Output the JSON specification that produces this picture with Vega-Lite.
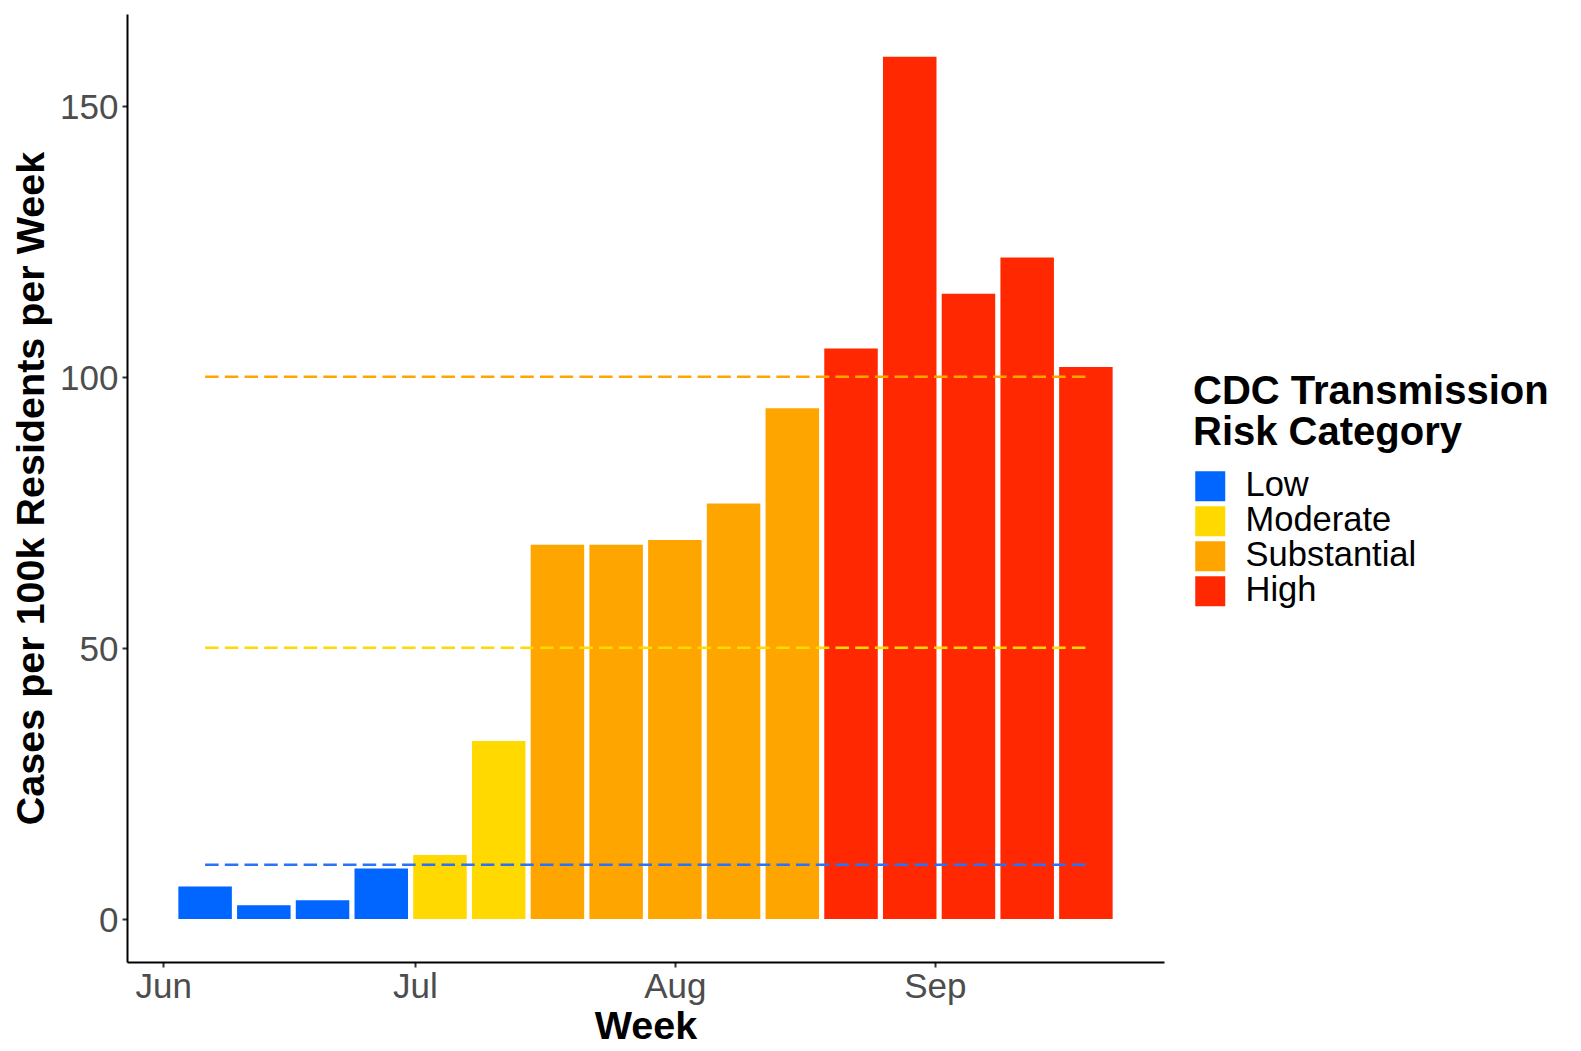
{
  "$schema": "https://vega.github.io/schema/vega-lite/v6.json",
  "width": 1037,
  "height": 948,
  "autosize": {"type": "none"},
  "padding": {"left": 127, "top": 14, "right": 417, "bottom": 89},
  "background": "white",
  "config": {
    "view": {"stroke": null},
    "font": "Liberation Sans",
    "axis": {
      "grid": false,
      "domainColor": "black",
      "domainWidth": 2,
      "tickColor": "#333333",
      "tickWidth": 2,
      "tickSize": 5,
      "labelColor": "#4D4D4D",
      "labelFont": "Liberation Sans",
      "labelFontSize": 35,
      "titleFont": "Liberation Sans",
      "titleFontSize": 39.5,
      "titleFontWeight": "bold",
      "titleColor": "black"
    }
  },
  "layer": [
    {
      "data": {
        "values": [
          {"week": "2021-06-06", "cases": 5.96, "category": "Low"},
          {"week": "2021-06-13", "cases": 2.52, "category": "Low"},
          {"week": "2021-06-20", "cases": 3.44, "category": "Low"},
          {"week": "2021-06-27", "cases": 9.29, "category": "Low"},
          {"week": "2021-07-04", "cases": 11.8, "category": "Moderate"},
          {"week": "2021-07-11", "cases": 32.8, "category": "Moderate"},
          {"week": "2021-07-18", "cases": 69.0, "category": "Substantial"},
          {"week": "2021-07-25", "cases": 69.0, "category": "Substantial"},
          {"week": "2021-08-01", "cases": 69.9, "category": "Substantial"},
          {"week": "2021-08-08", "cases": 76.6, "category": "Substantial"},
          {"week": "2021-08-15", "cases": 94.2, "category": "Substantial"},
          {"week": "2021-08-22", "cases": 105.2, "category": "High"},
          {"week": "2021-08-29", "cases": 159.0, "category": "High"},
          {"week": "2021-09-05", "cases": 115.3, "category": "High"},
          {"week": "2021-09-12", "cases": 122.0, "category": "High"},
          {"week": "2021-09-19", "cases": 101.8, "category": "High"}
        ]
      },
      "mark": {"type": "bar", "width": 53.5},
      "encoding": {
        "x": {
          "field": "week",
          "type": "temporal",
          "title": "Week",
          "scale": {
            "type": "utc",
            "domain": [
              {"year": 2021, "month": "May", "date": 28, "hours": 6, "minutes": 50, "utc": true},
              {"year": 2021, "month": "Sep", "date": 27, "hours": 17, "minutes": 10, "utc": true}
            ]
          },
          "axis": {
            "values": [
              {"year": 2021, "month": "Jun", "date": 1, "utc": true},
              {"year": 2021, "month": "Jul", "date": 1, "utc": true},
              {"year": 2021, "month": "Aug", "date": 1, "utc": true},
              {"year": 2021, "month": "Sep", "date": 1, "utc": true}
            ],
            "format": "%b",
            "labelPadding": 2,
            "titlePadding": 3
          }
        },
        "y": {
          "field": "cases",
          "type": "quantitative",
          "title": "Cases per 100k Residents per Week",
          "scale": {"domain": [-7.95, 166.9], "nice": false},
          "axis": {"values": [0, 50, 100, 150], "labelPadding": 4, "titlePadding": 8, "labelOffset": 2}
        },
        "color": {
          "field": "category",
          "type": "nominal",
          "scale": {
            "domain": ["Low", "Moderate", "Substantial", "High"],
            "range": ["#0066FF", "#FFD900", "#FFA500", "#FF2800"]
          },
          "legend": {
            "title": ["CDC Transmission", "Risk Category"],
            "orient": "none",
            "legendX": 1066,
            "legendY": 358,
            "padding": 0,
            "titleFont": "Liberation Sans",
            "titleFontSize": 40,
            "titleFontWeight": "bold",
            "titleColor": "black",
            "titleLineHeight": 41,
            "titlePadding": 16,
            "titleLimit": 600,
            "labelFont": "Liberation Sans",
            "labelFontSize": 34.5,
            "labelColor": "black",
            "labelOffset": 18,
            "labelLimit": 500,
            "symbolType": "square",
            "symbolSize": 900,
            "symbolStrokeWidth": 0,
            "symbolOpacity": 1,
            "rowPadding": 0
          }
        }
      }
    },
    {
      "data": {
        "values": [
          {"start": "2021-06-06", "end": "2021-09-19", "threshold": 10, "level": "Low"},
          {"start": "2021-06-06", "end": "2021-09-19", "threshold": 50, "level": "Moderate"},
          {"start": "2021-06-06", "end": "2021-09-19", "threshold": 100, "level": "Substantial"}
        ]
      },
      "mark": {"type": "rule", "strokeDash": [13.5, 6.2], "strokeWidth": 2.6},
      "encoding": {
        "x": {"field": "start", "type": "temporal", "title": "Week"},
        "x2": {"field": "end"},
        "y": {"field": "threshold", "type": "quantitative", "title": "Cases per 100k Residents per Week"},
        "stroke": {
          "field": "level",
          "type": "nominal",
          "scale": {
            "domain": ["Low", "Moderate", "Substantial"],
            "range": ["#2A72F7", "#FFD900", "#FFA500"]
          },
          "legend": null
        }
      }
    }
  ]
}
